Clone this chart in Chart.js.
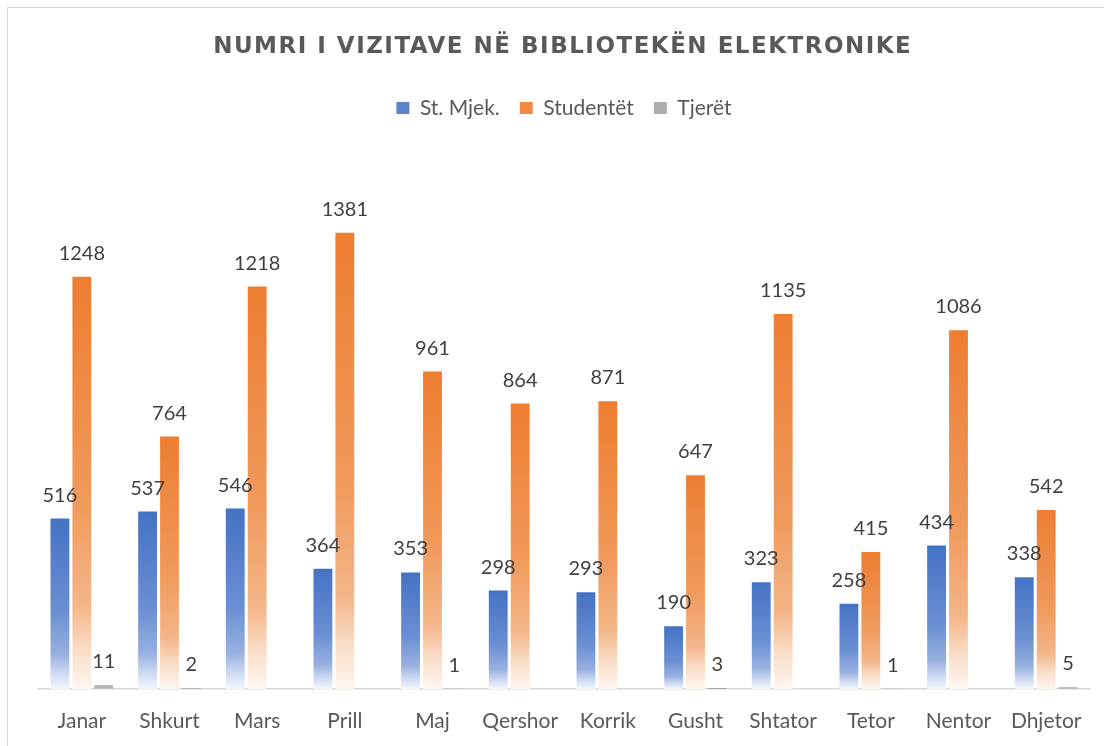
<!DOCTYPE html>
<html>
<head>
<meta charset="utf-8">
<script src="https://cdn.jsdelivr.net/npm/chart.js@4"></script>
<style>
    html, body { margin: 0; padding: 0; background: #fff; }
    #wrap { position: relative; width: 1104px; height: 746px; overflow: hidden; }
    #frame { position: absolute; left: 7px; top: 7px; width: 1200px; height: 900px; border: 1px solid #d9d9d9; box-sizing: border-box; }
    canvas { position: absolute; left: 0; top: 0; }
</style>
</head>
<body>
<div id="wrap">
    <div id="frame"></div>
    <canvas id="chart" width="1104" height="746"></canvas>
</div>
<script>
// Chart data
const months = ['Janar', 'Shkurt', 'Mars', 'Prill', 'Maj', 'Qershor', 'Korrik', 'Gusht', 'Shtator', 'Tetor', 'Nentor', 'Dhjetor'];
const stMjek = [516, 537, 546, 364, 353, 298, 293, 190, 323, 258, 434, 338];
const studentet = [1248, 764, 1218, 1381, 961, 864, 871, 647, 1135, 415, 1086, 542];
const tjeret = [11, 2, null, null, 1, null, null, 3, null, 1, null, 5];

const titleText = 'NUMRI I VIZITAVE NË BIBLIOTEKËN ELEKTRONIKE';
const fontFamily = 'Lato, "Open Sans", sans-serif';

// Gradient stops per series (top colour fading to white at the base)
const gradients = {
    blue: [[0, '#4472c4'], [0.55, '#6b8fd2'], [0.8, '#98b1e0'], [0.9, '#c9d6f0'], [1, '#f5f8fd']],
    orange: [[0, '#ed7d31'], [0.55, '#f09a5c'], [0.8, '#f4b68a'], [0.9, '#f9dcc6'], [1, '#fef7f2']],
    gray: [[0, '#a5a5a5'], [1, '#c8c8c8']]
};

function barGradient(stops) {
    return function(context) {
        const chart = context.chart;
        const yScale = chart.scales.y;
        if (!chart.chartArea || !yScale || context.raw == null) return stops[0][1];
        const top = yScale.getPixelForValue(context.raw);
        const base = yScale.getPixelForValue(0);
        if (base - top < 1) return stops[0][1];
        const g = chart.ctx.createLinearGradient(0, top, 0, base);
        stops.forEach(s => g.addColorStop(s[0], s[1]));
        return g;
    };
}

// Draws the value above each bar
const valueLabels = {
    id: 'valueLabels',
    afterDatasetsDraw(chart) {
        const ctx = chart.ctx;
        ctx.save();
        ctx.font = '20px ' + fontFamily;
        ctx.fillStyle = '#404040';
        ctx.textAlign = 'center';
        ctx.textBaseline = 'alphabetic';
        chart.data.datasets.forEach((ds, i) => {
            const meta = chart.getDatasetMeta(i);
            meta.data.forEach((bar, j) => {
                if (ds.data[j] == null) return;
                ctx.fillText(String(ds.data[j]), bar.x, bar.y - 17);
            });
        });
        ctx.restore();
    }
};

// Title with letter spacing (Chart.js title kept only for layout)
const spacedTitle = {
    id: 'spacedTitle',
    afterDraw(chart) {
        const tb = chart.titleBlock;
        if (!tb) return;
        const ctx = chart.ctx;
        ctx.save();
        const spacing = 1.5;
        ctx.letterSpacing = '0px';
        ctx.font = 'bold 20px "DejaVu Sans", sans-serif';
        const w20 = ctx.measureText(titleText).width;
        const size = 20 * (700 - spacing * titleText.length) / w20;
        ctx.font = 'bold ' + size.toFixed(1) + 'px "DejaVu Sans", sans-serif';
        ctx.letterSpacing = spacing + 'px';
        ctx.fillStyle = '#595959';
        ctx.textAlign = 'center';
        ctx.textBaseline = 'middle';
        ctx.fillText(titleText, 562 + spacing / 2, 47);
        ctx.restore();
    }
};

// Extra space under the legend
const legendGap = {
    id: 'legendGap',
    beforeInit(chart) {
        const origFit = chart.legend.fit;
        chart.legend.fit = function() {
            origFit.bind(chart.legend)();
            this.height += 32;
        };
    }
};

const ctx = document.getElementById('chart').getContext('2d');
const chart = new Chart(ctx, {
    type: 'bar',
    data: {
        labels: months,
        datasets: [
            { label: 'St. Mjek.', data: stMjek, backgroundColor: barGradient(gradients.blue) },
            { label: 'Studentët', data: studentet, backgroundColor: barGradient(gradients.orange) },
            { label: 'Tjerët', data: tjeret, backgroundColor: barGradient(gradients.gray) }
        ]
    },
    options: {
        responsive: false,
        animation: false,
        devicePixelRatio: 1,
        layout: { padding: { left: 38, right: 14, top: 0, bottom: 0 } },
        datasets: {
            bar: { categoryPercentage: 0.75, barPercentage: 0.86 }
        },
        scales: {
            x: {
                grid: { display: false, drawTicks: false },
                border: { color: '#d9d9d9', width: 1.5 },
                ticks: {
                    color: '#595959',
                    padding: 20,
                    font: { family: fontFamily, size: 21 }
                },
                afterFit(scale) {
                    scale.height = 57;
                }
            },
            y: {
                display: false,
                min: 0,
                max: 1600
            }
        },
        plugins: {
            title: {
                display: true,
                text: titleText,
                color: 'rgba(0,0,0,0)',
                font: { family: fontFamily, size: 22, weight: 'bold' },
                padding: { top: 34, bottom: 17 }
            },
            legend: {
                position: 'top',
                labels: {
                    color: '#595959',
                    font: { family: fontFamily, size: 21 },
                    boxWidth: 13,
                    boxHeight: 12,
                    padding: 20,
                    generateLabels(chart) {
                        const cols = ['#5b84cc', '#f08a45', '#aeaeae'];
                        return chart.data.datasets.map((ds, i) => ({
                            text: ds.label,
                            fillStyle: cols[i],
                            strokeStyle: cols[i],
                            lineWidth: 0,
                            fontColor: '#595959',
                            datasetIndex: i,
                            hidden: false
                        }));
                    }
                }
            },
            tooltip: { enabled: false }
        }
    },
    plugins: [valueLabels, spacedTitle, legendGap]
});
</script>
</body>
</html>
